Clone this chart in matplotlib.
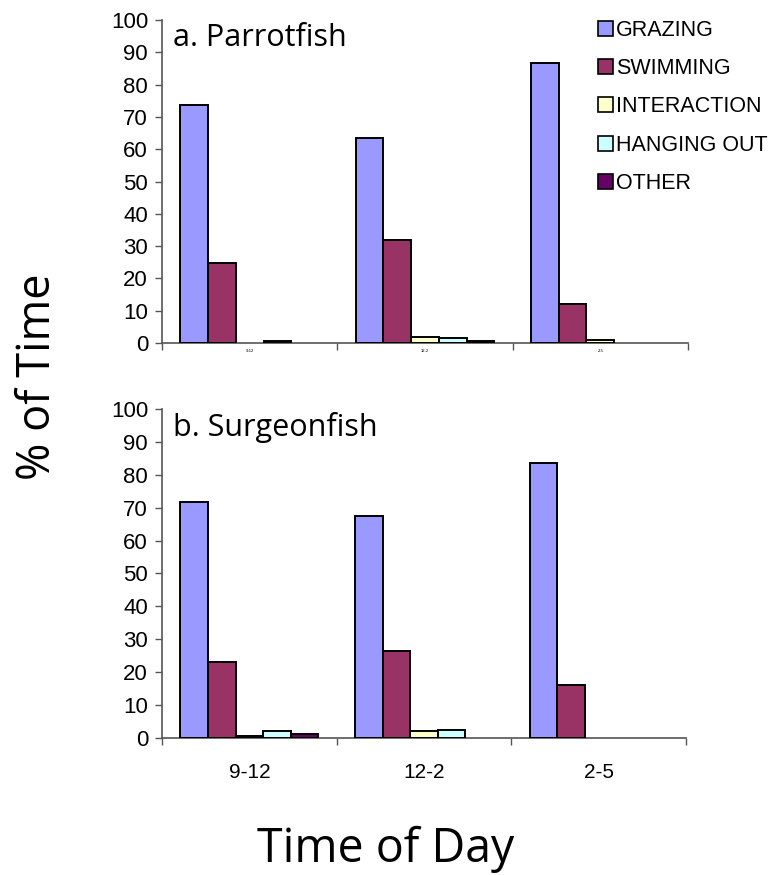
import matplotlib
matplotlib.use("Agg")
import matplotlib.pyplot as plt
import numpy as np

periods = ["9-12", "12-2", "2-5"]
behaviours = ["GRAZING", "SWIMMING", "INTERACTION", "HANGING OUT", "OTHER"]
colors = ["#9999FF", "#993366", "#FFFFCC", "#CCFFFF", "#660066"]

parrot_grazing = [73.8, 63.5, 86.6]
parrot_swimming = [24.8, 31.9, 12.2]
parrot_interaction = [0.0, 2.0, 1.0]
parrot_hanging = [0.5, 1.5, 0.0]
parrot_other = [0.0, 0.5, 0.0]

surgeon_grazing = [71.8, 67.6, 83.5]
surgeon_swimming = [23.2, 26.5, 16.0]
surgeon_interaction = [0.5, 2.1, 0.0]
surgeon_hanging = [2.1, 2.5, 0.0]
surgeon_other = [1.1, 0.0, 0.0]

parrot = [parrot_grazing, parrot_swimming, parrot_interaction, parrot_hanging, parrot_other]
surgeon = [surgeon_grazing, surgeon_swimming, surgeon_interaction, surgeon_hanging, surgeon_other]
yticks = list(range(0, 101, 10))

tick_font = "Liberation Sans"
title_font = "Open Sans"

fig = plt.figure(figsize=(7.74, 8.75), dpi=100)
ax1 = fig.add_axes([0.2093, 0.608, 0.6796, 0.369])
ax2 = fig.add_axes([0.2093, 0.1566, 0.677, 0.376])

w = 0.158
n = len(periods)
idx = np.arange(n)

def draw(ax, series, title, label_size, label_pad):
    for j, (vals, c, name) in enumerate(zip(series, colors, behaviours)):
        lws = [1.4 if v > 0 else 0 for v in vals]
        ax.bar(idx + 0.5 + (j - 2) * w, vals, width=w, color=c,
               edgecolor="black", linewidth=lws, label=name, zorder=3)
    ax.set_xlim(0, n)
    ax.set_ylim(0, 100)
    ax.set_yticks(yticks)
    ax.set_yticklabels([str(v) for v in yticks], fontsize=16, family=tick_font)
    ax.set_xticks(np.arange(0, n + 1))
    ax.set_xticklabels([])
    ax.set_xticks(idx + 0.5, minor=True)
    ax.set_xticklabels(periods, minor=True, fontsize=label_size, family=tick_font)
    ax.tick_params(axis="x", which="minor", length=0, pad=label_pad)
    ax.tick_params(axis="x", which="major", length=5, color="#555555", width=1)
    ax.tick_params(axis="y", length=5, color="#555555", width=1, pad=5)
    for s in ["top", "right"]:
        ax.spines[s].set_visible(False)
    for s in ["left", "bottom"]:
        ax.spines[s].set_color("#555555")
        ax.spines[s].set_linewidth(1.2)
    ax.text(0.021, 94.5, title, transform=ax.get_yaxis_transform(),
            fontsize=22, family=title_font, va="center", ha="left")

draw(ax1, parrot, "a. Parrotfish", 3, 4)
draw(ax2, surgeon, "b. Surgeonfish", 15, 18)

handles, labels = [], []
for c, name in zip(colors, behaviours):
    handles.append(plt.Rectangle((0, 0), 1, 1, facecolor=c, edgecolor="black", linewidth=1.2))
    labels.append(name)
fig.legend(handles, labels, loc="upper left", bbox_to_anchor=(598 / 774, 1 - 20 / 875),
           frameon=False, prop={"family": tick_font, "size": 15.5},
           handlelength=0.7, handleheight=0.7, handletextpad=0.15,
           labelspacing=0.8, borderaxespad=0, borderpad=0)

fig.text(38 / 774, 1 - 377 / 875, "% of Time", rotation=90, fontsize=32.5,
         family=title_font, ha="center", va="center")
fig.text(386 / 774, 1 - 862 / 875, "Time of Day", fontsize=33.5,
         family=title_font, ha="center", va="baseline")

fig.savefig("out.png", dpi=100)
